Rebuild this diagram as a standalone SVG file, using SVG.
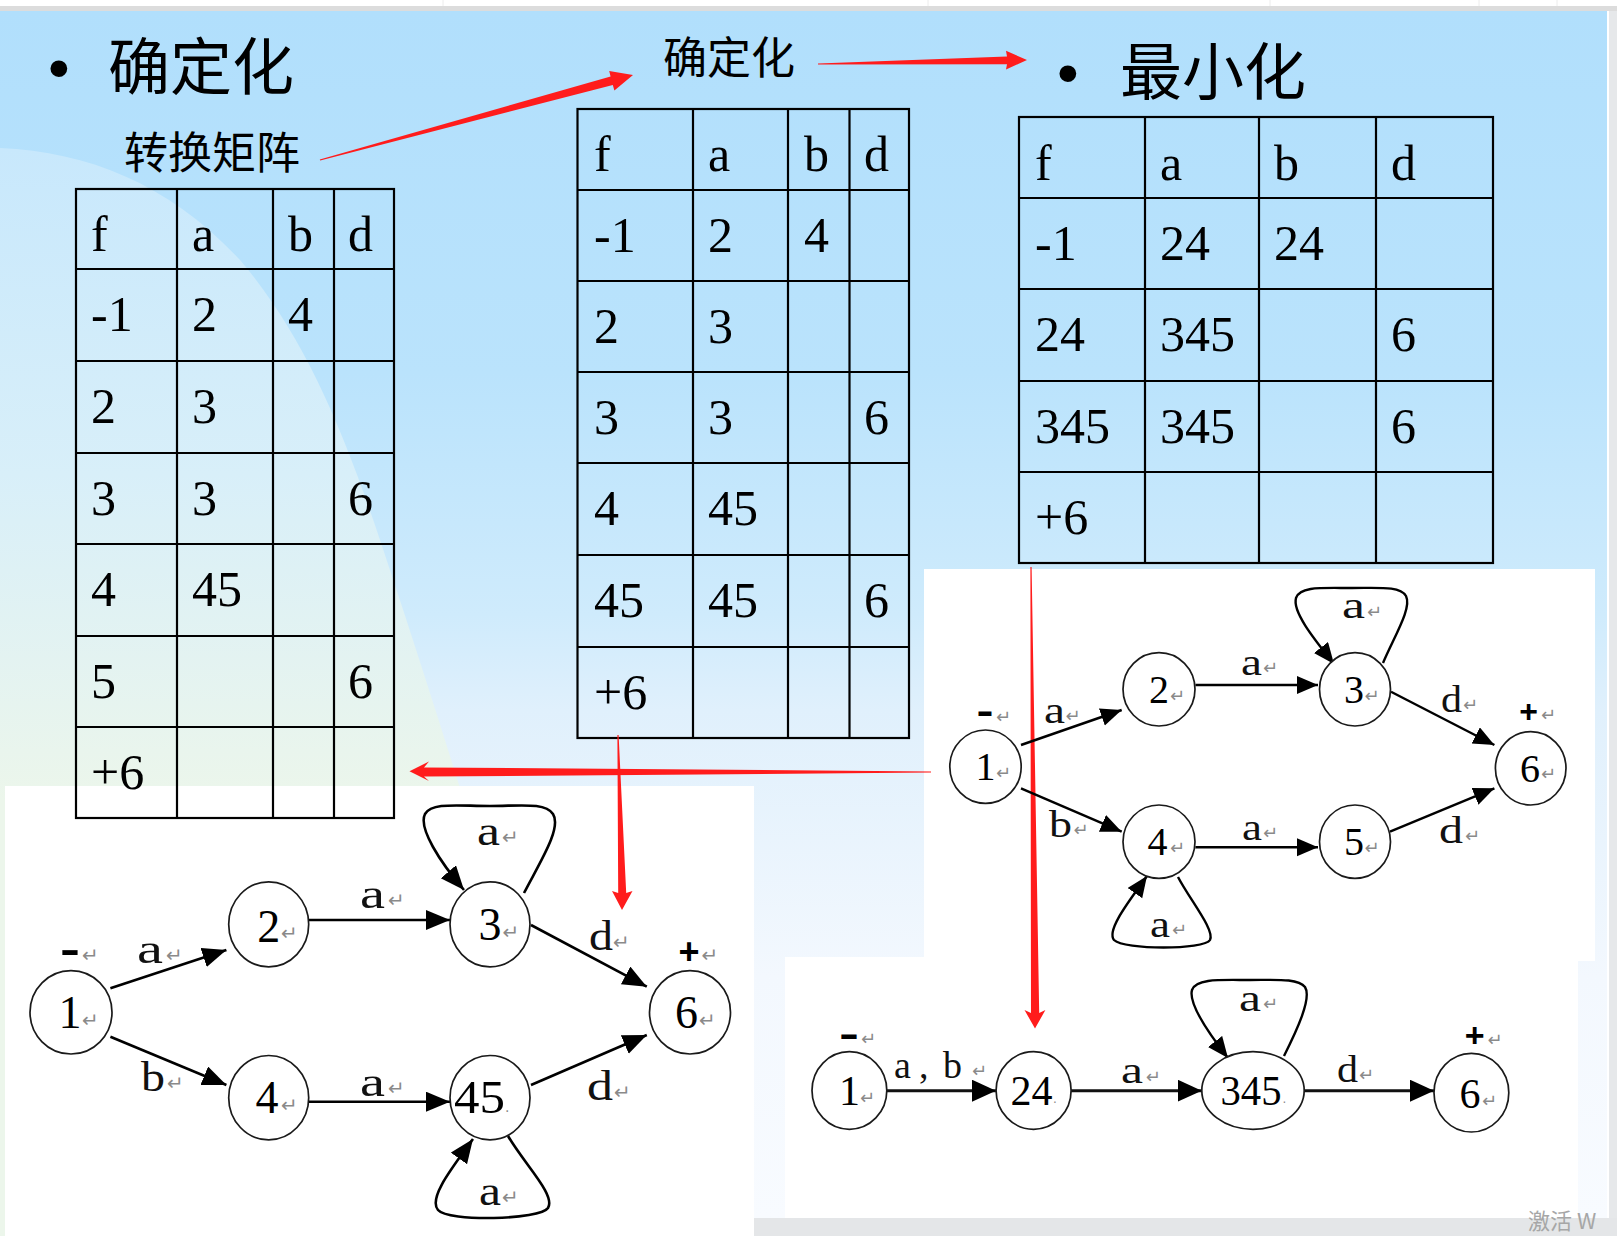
<svg xmlns="http://www.w3.org/2000/svg" width="1617" height="1236" viewBox="0 0 1617 1236">
<defs>
<linearGradient id="bg" gradientUnits="userSpaceOnUse" x1="0" y1="11" x2="0" y2="1218">
<stop offset="0" stop-color="#B1DFFC"/>
<stop offset="0.3" stop-color="#BAE3FC"/>
<stop offset="0.5" stop-color="#CFEBFC"/>
<stop offset="0.58" stop-color="#E0F0FC"/>
<stop offset="0.8" stop-color="#F3F8FE"/>
<stop offset="1" stop-color="#F8FBFF"/>
</linearGradient>
<linearGradient id="deco" gradientUnits="userSpaceOnUse" x1="0" y1="148" x2="0" y2="800">
<stop offset="0" stop-color="#C8E8FC"/>
<stop offset="0.5" stop-color="#D8EFF9"/>
<stop offset="1" stop-color="#ECF6EB"/>
</linearGradient>
<marker id="ah" markerUnits="userSpaceOnUse" markerWidth="26" markerHeight="22" refX="24" refY="10" orient="auto">
<path d="M0,0 L24,10 L0,20 z" fill="#000"/>
</marker>
<marker id="ah2" markerUnits="userSpaceOnUse" markerWidth="24" markerHeight="20" refX="21" refY="9" orient="auto">
<path d="M0,0 L21,9 L0,18 z" fill="#000"/>
</marker>
<marker id="ah3" markerUnits="userSpaceOnUse" markerWidth="26" markerHeight="24" refX="24" refY="11" orient="auto">
<path d="M0,0 L24,11 L0,22 z" fill="#000"/>
</marker>
</defs>
<style>
.tb{fill:none;stroke:#000;stroke-width:2.2}
.tt{font-family:"Liberation Serif","Times New Roman",serif;font-size:50px;fill:#000}
.cjk{font-family:"Noto Sans CJK SC","Noto Sans CJK JP",sans-serif;fill:#000}
.bul{font-family:"Liberation Sans",Arial,sans-serif;font-size:62px;fill:#000}
.red{fill:#FF1C1C}
.nd{fill:#fff;stroke:#1a1a1a;stroke-width:1.7}
.nl{font-family:"Liberation Serif","Times New Roman",serif;fill:#000;text-anchor:middle}
.el{font-family:"Liberation Serif","Times New Roman",serif;fill:#111}
.sg{font-family:"Liberation Sans",Arial,sans-serif;font-weight:bold;fill:#000;text-anchor:middle}
.rm{font-family:"DejaVu Sans",sans-serif;fill:#8a8a8a;text-anchor:start;font-weight:normal}
.ed{fill:none;stroke:#000;stroke-width:2.6}
.ed2{fill:none;stroke:#000;stroke-width:2.4}
.ed3{fill:none;stroke:#111;stroke-width:3}
</style>

<!-- background -->
<rect x="0" y="0" width="1617" height="1236" fill="url(#bg)"/>
<path d="M0,148 C90,152 170,185 240,260 C300,330 340,420 380,540 C420,660 445,740 470,820 L470,1236 L0,1236 Z" fill="url(#deco)"/>
<rect x="0" y="0" width="1617" height="6" fill="#fff"/>
<rect x="0" y="6" width="1617" height="5" fill="#DCDCDC"/>
<g stroke="#ECECEC" stroke-width="1">
<line x1="443" y1="0" x2="443" y2="6"/><line x1="928" y1="0" x2="928" y2="6"/><line x1="1270" y1="0" x2="1270" y2="6"/><line x1="1479" y1="0" x2="1479" y2="6"/><line x1="1557" y1="0" x2="1557" y2="6"/>
</g>
<rect x="1607" y="11" width="2" height="1225" fill="#fff"/>
<rect x="1609" y="11" width="8" height="1225" fill="#E6E8EA"/>
<rect x="754" y="1218" width="863" height="18" fill="#E4E6E8"/>

<!-- white picture panels -->
<rect id="panelA" x="5" y="786" width="749" height="450" fill="#fff"/>
<rect id="panelB" x="924" y="569" width="671" height="392" fill="#fff"/>
<rect id="panelC" x="785" y="957" width="793" height="261" fill="#fff"/>

<!-- titles -->
<g id="title-det">
<text class="bul" x="48" y="89">•</text>
<text class="cjk" x="108" y="90" font-size="62">确定化</text>
</g>
<text id="label-matrix" class="cjk" x="124" y="169" font-size="44">转换矩阵</text>
<text id="label-det2" class="cjk" x="663" y="74" font-size="44">确定化</text>
<g id="title-min">
<text class="bul" x="1057" y="94">•</text>
<text class="cjk" x="1120" y="95" font-size="62">最小化</text>
</g>

<!-- table 1 -->
<g id="table1">
<rect class="tb" x="76" y="189" width="318" height="629"/>
<path class="tb" d="M177,189V818M273,189V818M334,189V818M76,269H394M76,361H394M76,453H394M76,544H394M76,636H394M76,727H394"/>
<text class="tt" x="91" y="251">f</text><text class="tt" x="192" y="251">a</text><text class="tt" x="288" y="251">b</text><text class="tt" x="348" y="251">d</text>
<text class="tt" x="91" y="331">-1</text><text class="tt" x="192" y="331">2</text><text class="tt" x="288" y="331">4</text>
<text class="tt" x="91" y="423">2</text><text class="tt" x="192" y="423">3</text>
<text class="tt" x="91" y="515">3</text><text class="tt" x="192" y="515">3</text><text class="tt" x="348" y="515">6</text>
<text class="tt" x="91" y="606">4</text><text class="tt" x="192" y="606">45</text>
<text class="tt" x="91" y="698">5</text><text class="tt" x="348" y="698">6</text>
<text class="tt" x="91" y="789">+6</text>
</g>

<!-- table 2 -->
<g id="table2">
<rect class="tb" x="577.5" y="109" width="331.5" height="629"/>
<path class="tb" d="M693,109V738M788,109V738M849.5,109V738M577.5,190H909M577.5,281H909M577.5,372H909M577.5,463H909M577.5,555H909M577.5,647H909"/>
<text class="tt" x="594" y="171">f</text><text class="tt" x="708" y="171">a</text><text class="tt" x="804" y="171">b</text><text class="tt" x="864" y="171">d</text>
<text class="tt" x="594" y="252">-1</text><text class="tt" x="708" y="252">2</text><text class="tt" x="804" y="252">4</text>
<text class="tt" x="594" y="343">2</text><text class="tt" x="708" y="343">3</text>
<text class="tt" x="594" y="434">3</text><text class="tt" x="708" y="434">3</text><text class="tt" x="864" y="434">6</text>
<text class="tt" x="594" y="525">4</text><text class="tt" x="708" y="525">45</text>
<text class="tt" x="594" y="617">45</text><text class="tt" x="708" y="617">45</text><text class="tt" x="864" y="617">6</text>
<text class="tt" x="594" y="709">+6</text>
</g>

<!-- table 3 -->
<g id="table3">
<rect class="tb" x="1019" y="117" width="474" height="446"/>
<path class="tb" d="M1145,117V563M1259,117V563M1376,117V563M1019,198H1493M1019,289H1493M1019,381H1493M1019,472H1493"/>
<text class="tt" x="1035" y="180">f</text><text class="tt" x="1160" y="180">a</text><text class="tt" x="1274" y="180">b</text><text class="tt" x="1391" y="180">d</text>
<text class="tt" x="1035" y="260">-1</text><text class="tt" x="1160" y="260">24</text><text class="tt" x="1274" y="260">24</text>
<text class="tt" x="1035" y="351">24</text><text class="tt" x="1160" y="351">345</text><text class="tt" x="1391" y="351">6</text>
<text class="tt" x="1035" y="443">345</text><text class="tt" x="1160" y="443">345</text><text class="tt" x="1391" y="443">6</text>
<text class="tt" x="1035" y="534">+6</text>
</g>

<!-- red arrows -->
<g id="red-arrows">
<polygon class="red" points="320.2,160.6 612.8,85 614.4,90.4 633,75 609.2,71.1 610.6,76.6 319.8,159.4"/>
<polygon class="red" points="818,64.6 1007,64.3 1006,69.5 1027,60 1006,50.8 1007,56.5 818,63.4"/>
<polygon class="red" points="931,772.6 424,776.6 429,781 409.5,771.2 429,761.5 424,767.4 931,771.4"/>
<polygon class="red" points="617.4,735 618.6,735 626.2,893 632.5,891 622,910 612,891 618.2,893"/>
<polygon class="red" points="1030.4,567 1031.6,567 1039.2,1013 1045.4,1010 1035,1028.5 1024.5,1010 1031,1013"/>
</g>

<!-- graph 1 : determinised -->
<g id="graph1-edges">
<line class="ed" x1="110.4" y1="988.3" x2="226.4" y2="950" marker-end="url(#ah)"/>
<line class="ed" x1="110.4" y1="1036.7" x2="226.4" y2="1085" marker-end="url(#ah)"/>
<line class="ed" x1="308.5" y1="920" x2="450" y2="920" marker-end="url(#ah)"/>
<line class="ed" x1="308.5" y1="1101.7" x2="450" y2="1101.7" marker-end="url(#ah)"/>
<line class="ed" x1="531" y1="925" x2="646.8" y2="986.7" marker-end="url(#ah)"/>
<line class="ed" x1="531" y1="1085" x2="646.8" y2="1035" marker-end="url(#ah)"/>
<path class="ed" d="M524,893 C540,862 562,828 553,814 C545,802 520,806 490,806 C458,806 432,802 425,814 C418,828 440,862 464,890" marker-end="url(#ah)"/>
<path class="ed" d="M508,1136 C525,1165 556,1195 548,1208 C540,1220 448,1222 438,1210 C428,1198 452,1168 473,1139" marker-end="url(#ah)"/>
<text class="el" font-size="42" x="137" y="963" textLength="26" lengthAdjust="spacingAndGlyphs">a</text><text class="rm" font-size="20" x="166" y="962">↵</text>
<text class="el" font-size="42" x="360" y="908" textLength="25" lengthAdjust="spacingAndGlyphs">a</text><text class="rm" font-size="20" x="388" y="907">↵</text>
<text class="el" font-size="42" x="589" y="950" textLength="24" lengthAdjust="spacingAndGlyphs">d</text><text class="rm" font-size="20" x="613" y="949">↵</text>
<text class="el" font-size="42" x="141" y="1091" textLength="24" lengthAdjust="spacingAndGlyphs">b</text><text class="rm" font-size="20" x="167" y="1090">↵</text>
<text class="el" font-size="42" x="360" y="1096" textLength="25" lengthAdjust="spacingAndGlyphs">a</text><text class="rm" font-size="20" x="388" y="1095">↵</text>
<text class="el" font-size="42" x="587" y="1100" textLength="26" lengthAdjust="spacingAndGlyphs">d</text><text class="rm" font-size="20" x="614" y="1099">↵</text>
<text class="el" font-size="42" x="477" y="845" textLength="23" lengthAdjust="spacingAndGlyphs">a</text><text class="rm" font-size="20" x="502" y="844">↵</text>
<text class="el" font-size="42" x="479" y="1205" textLength="22" lengthAdjust="spacingAndGlyphs">a</text><text class="rm" font-size="20" x="502" y="1204">↵</text>
</g>
<g id="graph1-n1"><ellipse class="nd" cx="71" cy="1012.3" rx="41" ry="41.7"/><text class="nl" font-size="46" x="70" y="1028">1</text><text class="rm" font-size="20" x="82" y="1027">↵</text>
<text class="sg" font-size="40" x="70" y="963" textLength="20" lengthAdjust="spacingAndGlyphs">-</text><text class="rm" font-size="20" x="82" y="962">↵</text></g>
<g id="graph1-n2"><ellipse class="nd" cx="268.7" cy="924.3" rx="40" ry="42.5"/><text class="nl" font-size="46" x="268.7" y="941.5">2</text><text class="rm" font-size="20" x="281" y="940">↵</text></g>
<g id="graph1-n3"><ellipse class="nd" cx="490" cy="924.3" rx="40" ry="42.5"/><text class="nl" font-size="46" x="490" y="940">3</text><text class="rm" font-size="20" x="502.5" y="939">↵</text></g>
<g id="graph1-n4"><ellipse class="nd" cx="268.7" cy="1097.7" rx="40" ry="42.2"/><text class="nl" font-size="46" x="267" y="1113.3">4</text><text class="rm" font-size="20" x="281" y="1112">↵</text></g>
<g id="graph1-n45"><ellipse class="nd" cx="490" cy="1097.7" rx="40" ry="42.2"/><text class="nl" font-size="46" x="479.5" y="1113.3" textLength="51" lengthAdjust="spacingAndGlyphs">45</text><text class="rm" font-size="14" x="505" y="1112">.</text></g>
<g id="graph1-n6"><ellipse class="nd" cx="690" cy="1012.3" rx="40.5" ry="41.7"/><text class="nl" font-size="46" x="686.5" y="1028.3">6</text><text class="rm" font-size="20" x="699" y="1027">↵</text>
<text class="sg" font-size="36" x="689" y="964">+</text><text class="rm" font-size="20" x="701.5" y="962">↵</text></g>

<!-- graph 2 : NFA -->
<g id="graph2-edges">
<line class="ed2" x1="1021" y1="745" x2="1121.7" y2="710" marker-end="url(#ah2)"/>
<line class="ed2" x1="1021" y1="788.3" x2="1121.7" y2="831.7" marker-end="url(#ah2)"/>
<line class="ed2" x1="1195.4" y1="685" x2="1318" y2="685" marker-end="url(#ah2)"/>
<line class="ed2" x1="1195.4" y1="847.3" x2="1318" y2="847.3" marker-end="url(#ah2)"/>
<line class="ed2" x1="1391" y1="691.7" x2="1494.4" y2="745" marker-end="url(#ah2)"/>
<line class="ed2" x1="1390" y1="831.7" x2="1494.4" y2="788.3" marker-end="url(#ah2)"/>
<path class="ed2" d="M1383,663 C1395,635 1412,608 1406,596 C1400,586 1380,588 1352,588 C1322,588 1300,586 1296,598 C1292,612 1315,640 1334,664" marker-end="url(#ah2)"/>
<path class="ed2" d="M1178,877 C1190,900 1215,930 1210,940 C1204,950 1124,950 1114,940 C1106,930 1130,900 1147,876" marker-end="url(#ah2)"/>
<text class="el" font-size="38" x="1044" y="723" textLength="21" lengthAdjust="spacingAndGlyphs">a</text><text class="rm" font-size="18" x="1065.6" y="722">↵</text>
<text class="el" font-size="38" x="1241" y="675" textLength="21" lengthAdjust="spacingAndGlyphs">a</text><text class="rm" font-size="18" x="1263" y="674">↵</text>
<text class="el" font-size="38" x="1441" y="711.7" textLength="21" lengthAdjust="spacingAndGlyphs">d</text><text class="rm" font-size="18" x="1463" y="711">↵</text>
<text class="el" font-size="38" x="1049" y="836.7" textLength="23" lengthAdjust="spacingAndGlyphs">b</text><text class="rm" font-size="18" x="1073.6" y="836">↵</text>
<text class="el" font-size="38" x="1242" y="840" textLength="20" lengthAdjust="spacingAndGlyphs">a</text><text class="rm" font-size="18" x="1263" y="839">↵</text>
<text class="el" font-size="38" x="1439" y="843" textLength="24" lengthAdjust="spacingAndGlyphs">d</text><text class="rm" font-size="18" x="1465" y="842">↵</text>
<text class="el" font-size="38" x="1342" y="618.3" textLength="23" lengthAdjust="spacingAndGlyphs">a</text><text class="rm" font-size="18" x="1367" y="617.5">↵</text>
<text class="el" font-size="38" x="1150" y="936.7" textLength="20" lengthAdjust="spacingAndGlyphs">a</text><text class="rm" font-size="18" x="1172" y="936">↵</text>
</g>
<g id="graph2-n1"><ellipse class="nd" cx="985.5" cy="766.7" rx="35.7" ry="36.7"/><text class="nl" font-size="40" x="985.5" y="780">1</text><text class="rm" font-size="18" x="996" y="779">↵</text>
<text class="sg" font-size="36" x="985" y="723" textLength="17" lengthAdjust="spacingAndGlyphs">-</text><text class="rm" font-size="18" x="996" y="723">↵</text></g>
<g id="graph2-n2"><ellipse class="nd" cx="1159" cy="689.3" rx="36" ry="36.7"/><text class="nl" font-size="40" x="1159" y="703.3">2</text><text class="rm" font-size="18" x="1170" y="702">↵</text></g>
<g id="graph2-n3"><ellipse class="nd" cx="1355" cy="689.3" rx="35.5" ry="36.7"/><text class="nl" font-size="40" x="1354" y="703.3">3</text><text class="rm" font-size="18" x="1364.6" y="702">↵</text></g>
<g id="graph2-n4"><ellipse class="nd" cx="1159" cy="841.7" rx="36" ry="36.7"/><text class="nl" font-size="40" x="1157.6" y="855">4</text><text class="rm" font-size="18" x="1170" y="854">↵</text></g>
<g id="graph2-n5"><ellipse class="nd" cx="1355" cy="841.7" rx="35.5" ry="36.7"/><text class="nl" font-size="40" x="1354" y="855">5</text><text class="rm" font-size="18" x="1364.6" y="854">↵</text></g>
<g id="graph2-n6"><ellipse class="nd" cx="1530.7" cy="768.3" rx="35.3" ry="36.7"/><text class="nl" font-size="40" x="1530" y="781.7">6</text><text class="rm" font-size="18" x="1541" y="780">↵</text>
<text class="sg" font-size="32" x="1528.7" y="722">+</text><text class="rm" font-size="18" x="1541" y="721">↵</text></g>

<!-- graph 3 : minimised -->
<g id="graph3-edges">
<line class="ed3" x1="886.8" y1="1090.7" x2="996" y2="1090.7" marker-end="url(#ah3)"/>
<line class="ed3" x1="1071" y1="1090.7" x2="1201.8" y2="1090.7" marker-end="url(#ah3)"/>
<line class="ed3" x1="1304.3" y1="1090.7" x2="1434" y2="1090.7" marker-end="url(#ah3)"/>
<path class="ed2" d="M1284,1056 C1297,1030 1312,998 1305,987 C1298,978 1275,980 1250,980 C1222,980 1196,978 1192,990 C1188,1004 1210,1035 1228,1058" marker-end="url(#ah2)"/>
<text class="el" font-size="38" x="894 919 943" y="1078.3">a,b</text><text class="rm" font-size="18" x="972" y="1077">↵</text>
<text class="el" font-size="38" x="1121" y="1083.3" textLength="22" lengthAdjust="spacingAndGlyphs">a</text><text class="rm" font-size="18" x="1145.7" y="1082.5">↵</text>
<text class="el" font-size="38" x="1239" y="1010.7" textLength="22" lengthAdjust="spacingAndGlyphs">a</text><text class="rm" font-size="18" x="1263" y="1010">↵</text>
<text class="el" font-size="38" x="1337" y="1081.7" textLength="21" lengthAdjust="spacingAndGlyphs">d</text><text class="rm" font-size="18" x="1359" y="1081">↵</text>
</g>
<g id="graph3-n1"><ellipse class="nd" cx="849.4" cy="1090.5" rx="37.4" ry="38.8"/><text class="nl" font-size="42" x="849.4" y="1105">1</text><text class="rm" font-size="18" x="860" y="1104">↵</text>
<text class="sg" font-size="36" x="849" y="1046" textLength="20" lengthAdjust="spacingAndGlyphs">-</text><text class="rm" font-size="18" x="861" y="1045">↵</text></g>
<g id="graph3-n24"><ellipse class="nd" cx="1033.6" cy="1090.5" rx="37.5" ry="38.8"/><text class="nl" font-size="42" x="1031.5" y="1105" textLength="42" lengthAdjust="spacingAndGlyphs">24</text><text class="rm" font-size="12" x="1053" y="1103">.</text></g>
<g id="graph3-n345"><ellipse class="nd" cx="1253" cy="1090.5" rx="51.2" ry="38.8"/><text class="nl" font-size="42" x="1251" y="1105" textLength="61" lengthAdjust="spacingAndGlyphs">345</text><text class="rm" font-size="12" x="1282.5" y="1103">.</text></g>
<g id="graph3-n6"><ellipse class="nd" cx="1471.4" cy="1092.7" rx="37.4" ry="39.3"/><text class="nl" font-size="42" x="1470" y="1108.3">6</text><text class="rm" font-size="18" x="1482" y="1107">↵</text>
<text class="sg" font-size="34" x="1474.6" y="1047">+</text><text class="rm" font-size="18" x="1487.4" y="1046">↵</text></g>

<text id="watermark" class="cjk" x="1528" y="1229" font-size="22" style="fill:#A6A6A6">激活 W</text>
</svg>
